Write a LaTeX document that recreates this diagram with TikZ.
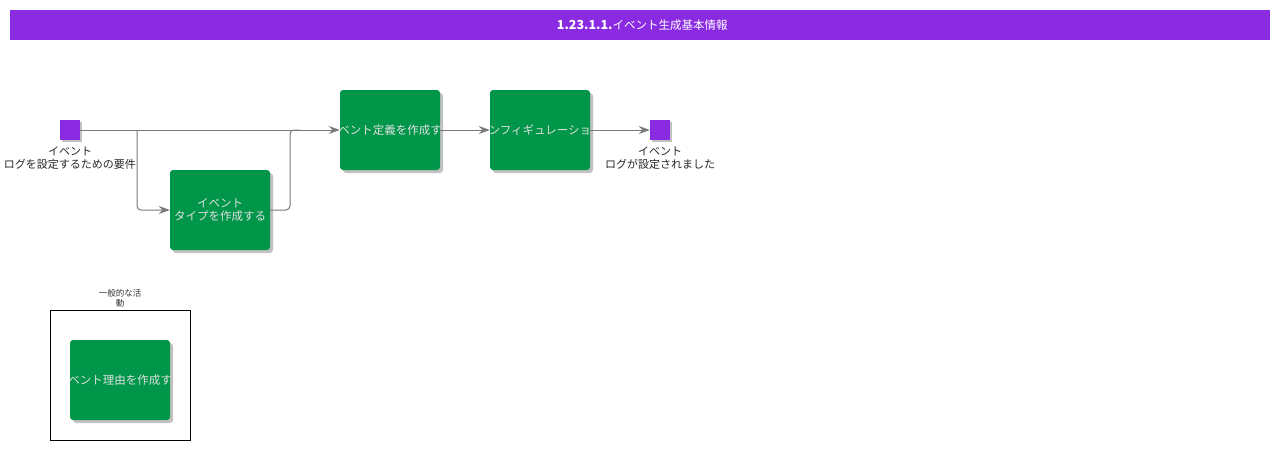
\documentclass[tikz,border=0pt]{standalone}
\usepackage{fontspec}
\setmainfont{Noto Sans CJK JP}
\usetikzlibrary{shadows,arrows.meta}
\definecolor{purp}{HTML}{8A2BE2}
\definecolor{grn}{HTML}{00964A}
\definecolor{txtl}{HTML}{E0E0E0}
\definecolor{ln}{HTML}{7A7A7A}
\tikzset{
  task/.style={draw=none,fill=grn,rounded corners=3pt,minimum width=100pt,minimum height=80pt,
    drop shadow={shadow xshift=3pt,shadow yshift=-3pt,fill=black!30,opacity=0.8},inner sep=0pt},
  ev/.style={fill=purp,minimum width=20pt,minimum height=20pt,inner sep=0pt,
    drop shadow={shadow xshift=2pt,shadow yshift=-2pt,fill=black!30,opacity=0.8}},
  tasktext/.style={text=txtl,font=\fontsize{11.5}{13.5}\selectfont,align=center,inner sep=0pt},
  lbl/.style={font=\fontsize{11}{13}\selectfont,align=center,inner sep=0pt,text=black!85},
  conn/.style={draw=ln,line width=1pt,-{Stealth[length=11pt,width=8pt]},rounded corners=4pt}
}
\begin{document}
\begin{tikzpicture}[x=1pt,y=-1pt]
\useasboundingbox (0,0) rectangle (1280,450);
% title
\node[fill=purp,minimum width=1260pt,minimum height=30pt,inner sep=0pt,anchor=north west] (title) at (10,10) {};
\node[text=white,font=\fontsize{11.5}{14}\selectfont] at ([xshift=2pt]title.center) {\textbf{\fontsize{12.5}{14}\selectfont 1.23.1.1.}イベント生成基本情報};
% events
\node[ev] (s) at (70,130) {};
\node[lbl,anchor=north] (sl) at (70,146.5) {イベント\\ログを設定するための要件};
\node[ev] (e) at (660,130) {};
\node[lbl,anchor=north] (el) at (660,146.5) {イベント\\ログが設定されました};
% tasks
\node[task] (t1) at (220,210) {};
\node[task] (t2) at (390,130) {};
\node[task] (t3) at (540,130) {};
% group
\node[draw=black,line width=0.8pt,minimum width=140pt,minimum height=130pt,inner sep=0pt] (g) at (120,375) {};
\node[font=\fontsize{8.5}{9.5}\selectfont,align=center,inner sep=0pt,text=black!80,anchor=south] (gl) at (120,307) {一般的な活\\動};
\node[task] (t4) at (120,380) {};
% task texts (clipped)
\begin{scope}
\clip (170,170) rectangle (273,250);
\node[tasktext] at (t1.center) {イベント\\タイプを作成する};
\end{scope}
\begin{scope}
\clip (340,90) rectangle (443,170);
\node[tasktext] at (t2.center) {イベント定義を作成する};
\end{scope}
\begin{scope}
\clip (490,90) rectangle (593,170);
\node[tasktext] at (t3.center) {コンフィギュレーション};
\end{scope}
\begin{scope}
\clip (70,340) rectangle (173,420);
\node[tasktext] at (t4.center) {イベント理由を作成する};
\end{scope}
% connectors
\coordinate (b1) at (137,130);
\coordinate (b2) at (290,130);
\draw[conn] (s.east) -- (t2.west);
\draw[conn] (b1) -- (137,210) -- (t1.west);
\draw[draw=ln,line width=1pt,rounded corners=4pt] (t1.east) -- (290,210) -- (b2) -- (300,130);
\draw[conn] (t2.east) -- (t3.west);
\draw[conn] (t3.east) -- (e.west);
\end{tikzpicture}
\end{document}
